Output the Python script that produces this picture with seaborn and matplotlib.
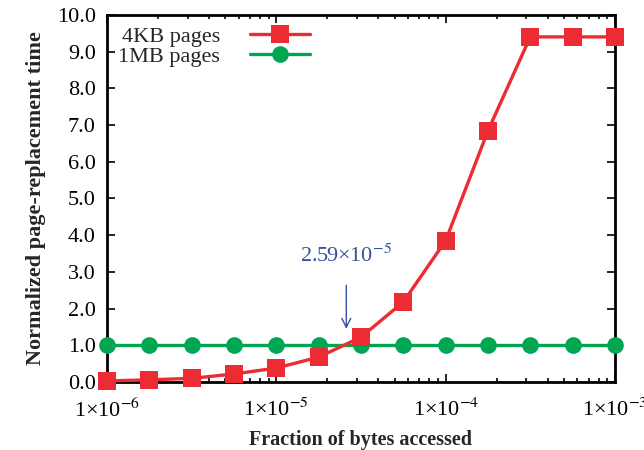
import matplotlib
matplotlib.use("Agg")
import matplotlib.pyplot as plt
import seaborn as sns
import pandas as pd
import numpy as np
from matplotlib.ticker import LogLocator, NullFormatter

fraction = [1e-6, 1.78e-6, 3.16e-6, 5.62e-6, 1e-5, 1.78e-5, 3.16e-5,
            5.62e-5, 1e-4, 1.78e-4, 3.16e-4, 5.62e-4, 1e-3]
time_4kb = [0.03, 0.06, 0.10, 0.22, 0.38, 0.68, 1.22, 2.18, 3.85, 6.85, 9.40, 9.40, 9.40]
time_1mb = [1.0] * 13
crossover = 2.59e-5
xtick_vals = [1e-6, 1e-5, 1e-4, 1e-3]
xtick_labels = ["1×10$^{-6}$", "1×10$^{-5}$", "1×10$^{-4}$", "1×10$^{-3}$"]

sns.set_theme(style="ticks")
plt.rcParams['font.family'] = ['Liberation Serif', 'DejaVu Serif']
plt.rcParams['mathtext.fontset'] = 'stix'

df = pd.DataFrame({
    "x": fraction * 2,
    "y": time_4kb + time_1mb,
    "series": ["4KB pages"] * 13 + ["1MB pages"] * 13,
})

fig, ax = plt.subplots(figsize=(6.44, 4.5), dpi=100)
red = "#ED2B33"
green = "#00A651"
sns.lineplot(data=df[df.series == "4KB pages"], x="x", y="y", ax=ax, color=red,
             marker="s", markersize=13.5, linewidth=2.4, markeredgewidth=0,
             label="4KB pages", clip_on=False, zorder=4)
sns.lineplot(data=df[df.series == "1MB pages"], x="x", y="y", ax=ax, color=green,
             marker="o", markersize=12, linewidth=2.4, markeredgewidth=0,
             label="1MB pages", clip_on=False, zorder=3)

ax.set_xscale("log")
ax.set_xlim(1e-6, 1e-3)
ax.set_ylim(0, 10)
yt = np.arange(0, 10.01, 1.0)
ax.set_yticks(yt)
ax.set_yticklabels([f"{v:.1f}" for v in yt])
ax.set_xticks(xtick_vals)
ax.set_xticklabels(xtick_labels)
ax.xaxis.set_minor_locator(LogLocator(base=10, subs=np.arange(2, 10)))
ax.xaxis.set_minor_formatter(NullFormatter())

ax.tick_params(axis="both", which="both", direction="in", top=True, right=True,
               labelsize=16, colors="black", width=1.2)
ax.tick_params(axis="both", which="major", length=6)
ax.tick_params(axis="y", which="major", pad=8)
ax.tick_params(axis="x", which="major", pad=12)
ax.tick_params(axis="x", which="minor", length=3)
for s in ax.spines.values():
    s.set_linewidth(2)
    s.set_color("black")

ax.set_xlabel("Fraction of bytes accessed", fontsize=14.5, fontweight="bold", labelpad=6)
ax.set_ylabel("Normalized page-replacement time", fontsize=16, fontweight="bold", labelpad=8)

ax.annotate("2.59×10$^{-5}$", xy=(crossover, 1.45), xytext=(crossover, 3.45),
            ha="center", va="center", fontsize=16, color="#3550A0",
            arrowprops=dict(arrowstyle="->", color="#3550A0", lw=1.0, shrinkA=11, shrinkB=0))

leg = ax.legend(loc="upper left", frameon=False, markerfirst=False, fontsize=16,
                handlelength=2.7, borderaxespad=0.1, labelspacing=0.0,
                handletextpad=1.35)
fig.subplots_adjust(left=0.166, right=0.955, top=0.967, bottom=0.151)
fig.savefig("out.png", dpi=100)
